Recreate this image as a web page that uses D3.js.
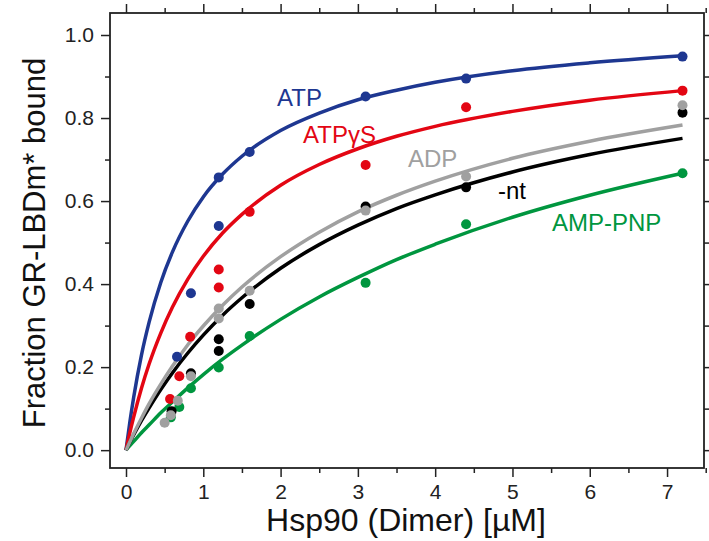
<!DOCTYPE html>
<html>
<head>
<meta charset="utf-8">
<script src="https://cdn.jsdelivr.net/npm/d3@7"></script>
<style>
  body { margin: 0; background: #fff; }
  svg { display: block; font-family: "Liberation Sans", Arial, sans-serif; }
</style>
</head>
<body>
<div id="chart"></div>
<script>
// measured points (Hsp90 dimer conc in uM, fraction bound)
const atpX = [0.66, 0.84, 1.2, 1.2, 1.6, 3.1, 4.4, 7.2];
const atpY = [0.225, 0.378, 0.54, 0.657, 0.718, 0.852, 0.895, 0.948];
const atpgsX = [0.57, 0.69, 0.83, 1.2, 1.2, 1.6, 3.1, 4.4, 7.2];
const atpgsY = [0.123, 0.178, 0.273, 0.392, 0.435, 0.574, 0.687, 0.826, 0.866];
const adpX = [0.5, 0.58, 0.67, 0.84, 1.2, 1.2, 1.6, 3.1, 4.4, 7.2];
const adpY = [0.066, 0.084, 0.119, 0.178, 0.317, 0.341, 0.384, 0.577, 0.659, 0.831];
const ntX = [0.59, 0.84, 1.2, 1.2, 1.6, 3.1, 4.4, 7.2];
const ntY = [0.094, 0.185, 0.239, 0.267, 0.352, 0.587, 0.633, 0.813];
const amppnpX = [0.58, 0.69, 0.84, 1.2, 1.6, 3.1, 4.4, 7.2];
const amppnpY = [0.079, 0.104, 0.149, 0.199, 0.275, 0.403, 0.544, 0.667];

// fitted curves
const fitX = [0, 0.05, 0.1, 0.2, 0.3, 0.45, 0.6, 0.8, 1.0, 1.25, 1.5, 2, 2.5, 3, 3.5, 4, 5, 6, 7.2];
const atpFit = [0, 0.068, 0.128, 0.229, 0.309, 0.404, 0.477, 0.552, 0.610, 0.665, 0.708, 0.770, 0.812, 0.844, 0.867, 0.886, 0.914, 0.933, 0.950];
const atpgsFit = [0, 0.042, 0.080, 0.149, 0.208, 0.282, 0.344, 0.412, 0.467, 0.523, 0.568, 0.638, 0.688, 0.726, 0.756, 0.780, 0.816, 0.843, 0.866];
const adpFit = [0, 0.020, 0.040, 0.077, 0.112, 0.159, 0.202, 0.254, 0.299, 0.349, 0.393, 0.466, 0.525, 0.574, 0.614, 0.648, 0.703, 0.744, 0.783];
const ntFit = [0, 0.019, 0.037, 0.071, 0.102, 0.146, 0.186, 0.234, 0.277, 0.325, 0.367, 0.438, 0.495, 0.542, 0.582, 0.615, 0.670, 0.712, 0.751];
const amppnpFit = [0, 0.011, 0.021, 0.042, 0.061, 0.090, 0.116, 0.150, 0.182, 0.219, 0.253, 0.315, 0.369, 0.416, 0.459, 0.496, 0.561, 0.614, 0.667];

const xTicks = [0, 1, 2, 3, 4, 5, 6, 7];
const yTicks = [0, 0.2, 0.4, 0.6, 0.8, 1.0];

const width = 709, height = 541;
const frame = {left: 110, right: 704, top: 13, bottom: 468};

const series = [
  {name: 'ATP', color: '#1e3791', xs: atpX, ys: atpY, fit: atpFit, lx: 277, ly: 106},
  {name: 'ATPγS', color: '#e30613', xs: atpgsX, ys: atpgsY, fit: atpgsFit, lx: 303, ly: 143},
  {name: 'AMP-PNP', color: '#00963f', xs: amppnpX, ys: amppnpY, fit: amppnpFit, lx: 552, ly: 231},
  {name: '-nt', color: '#000000', xs: ntX, ys: ntY, fit: ntFit, lx: 498, ly: 199},
  {name: 'ADP', color: '#a0a0a0', xs: adpX, ys: adpY, fit: adpFit, lx: 408, ly: 167}
];

const svg = d3.select('#chart').append('svg')
  .attr('width', width)
  .attr('height', height);

const x = d3.scaleLinear().domain([-0.207, 7.478]).range([frame.left, frame.right]);
const y = d3.scaleLinear().domain([-0.043, 1.053]).range([frame.bottom, frame.top]);

const axisColor = '#222';

// minor + major ticks on all four sides, pointing out
const xMinor = d3.range(0, 7.6, 0.5).filter(v => v % 1 !== 0);
const yMinor = [0.1, 0.3, 0.5, 0.7, 0.9];

function styleAxis(g) {
  g.select('.domain').remove();
  g.selectAll('line').attr('stroke', axisColor).attr('stroke-width', 1.5);
  g.selectAll('text').attr('fill', axisColor).style('font-size', '21px');
}

svg.append('g')
  .attr('transform', `translate(0,${frame.bottom})`)
  .call(d3.axisBottom(x).tickValues(xTicks).tickSize(9).tickPadding(7).tickFormat(d3.format('d')))
  .call(styleAxis);
svg.append('g')
  .attr('transform', `translate(0,${frame.bottom})`)
  .call(d3.axisBottom(x).tickValues(xMinor).tickSize(5).tickFormat(''))
  .call(styleAxis);
svg.append('g')
  .attr('transform', `translate(0,${frame.top})`)
  .call(d3.axisTop(x).tickValues(xTicks).tickSize(9).tickFormat(''))
  .call(styleAxis);
svg.append('g')
  .attr('transform', `translate(0,${frame.top})`)
  .call(d3.axisTop(x).tickValues(xMinor).tickSize(5).tickFormat(''))
  .call(styleAxis);

svg.append('g')
  .attr('transform', `translate(${frame.left},0)`)
  .call(d3.axisLeft(y).tickValues(yTicks).tickSize(9).tickPadding(7).tickFormat(d3.format('.1f')))
  .call(styleAxis);
svg.append('g')
  .attr('transform', `translate(${frame.left},0)`)
  .call(d3.axisLeft(y).tickValues(yMinor).tickSize(5).tickFormat(''))
  .call(styleAxis);
svg.append('g')
  .attr('transform', `translate(${frame.right},0)`)
  .call(d3.axisRight(y).tickValues(yTicks).tickSize(9).tickFormat(''))
  .call(styleAxis);
svg.append('g')
  .attr('transform', `translate(${frame.right},0)`)
  .call(d3.axisRight(y).tickValues(yMinor).tickSize(5).tickFormat(''))
  .call(styleAxis);

svg.append('rect')
  .attr('x', frame.left)
  .attr('y', frame.top)
  .attr('width', frame.right - frame.left)
  .attr('height', frame.bottom - frame.top)
  .attr('fill', 'none')
  .attr('stroke', axisColor)
  .attr('stroke-width', 1.8);

// fit lines
const line = d3.line()
  .x((d, i) => x(fitX[i]))
  .y(d => y(d))
  .curve(d3.curveMonotoneX);

svg.selectAll('.fit')
  .data(series)
  .enter().append('path')
  .attr('class', 'fit')
  .attr('d', d => line(d.fit))
  .attr('fill', 'none')
  .attr('stroke', d => d.color)
  .attr('stroke-width', 3.5);

// data points
series.forEach(s => {
  svg.append('g').selectAll('circle')
    .data(s.xs.map((v, i) => [v, s.ys[i]]))
    .enter().append('circle')
    .attr('cx', d => x(d[0]))
    .attr('cy', d => y(d[1]))
    .attr('r', 5)
    .attr('fill', s.color);
});

// curve labels
svg.selectAll('.lbl')
  .data(series)
  .enter().append('text')
  .attr('class', 'lbl')
  .attr('x', d => d.lx)
  .attr('y', d => d.ly)
  .attr('fill', d => d.color)
  .style('font-size', '24px')
  .text(d => d.name);

// axis titles
svg.append('text')
  .attr('x', 406)
  .attr('y', 531)
  .attr('text-anchor', 'middle')
  .attr('fill', '#111')
  .style('font-size', '32px')
  .text('Hsp90 (Dimer) [µM]');

svg.append('text')
  .attr('transform', `translate(45,243) rotate(-90)`)
  .attr('text-anchor', 'middle')
  .attr('fill', '#111')
  .style('font-size', '31px')
  .text('Fraction GR-LBDm* bound');
</script>
</body>
</html>
